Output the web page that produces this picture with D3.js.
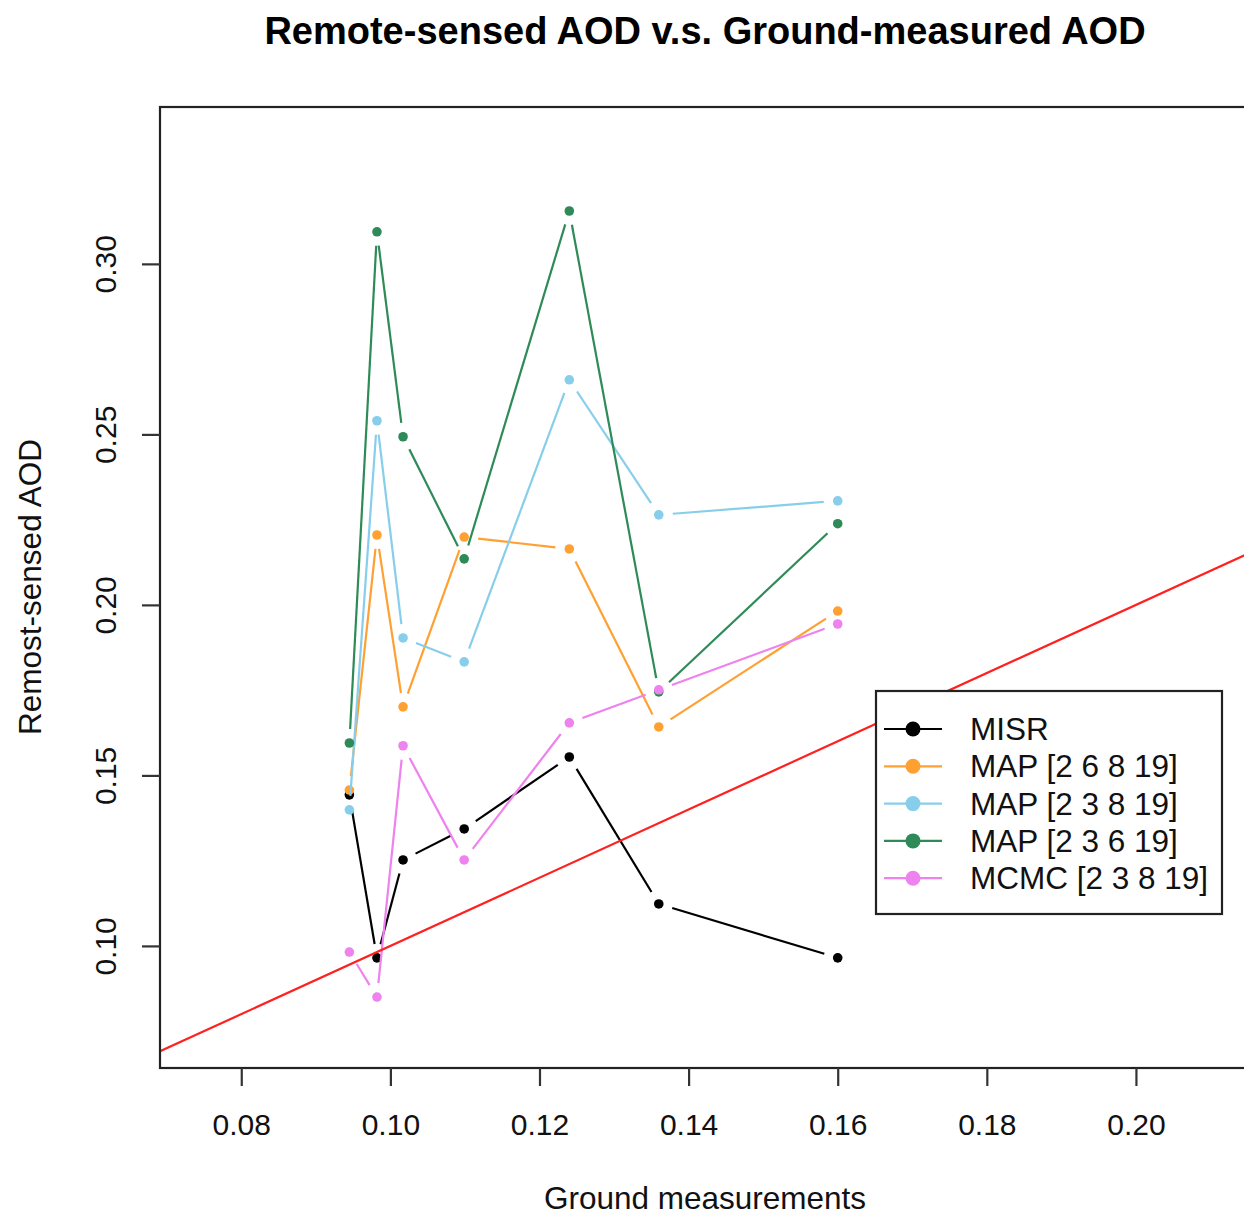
<!DOCTYPE html>
<html>
<head>
<meta charset="utf-8">
<script src="https://cdn.jsdelivr.net/npm/d3@7"></script>
<style>
  body { margin: 0; background: #fff; }
  svg { font-family: "Liberation Sans", Arial, sans-serif; }
</style>
</head>
<body>
<div id="chart"></div>
<script>
// ground measured AOD (x positions shared by all series)
const ground = [0.0945, 0.0982, 0.1017, 0.1099, 0.1240, 0.1360, 0.1600];

const misr = [0.1443, 0.0965, 0.1252, 0.1343, 0.1554, 0.1123, 0.0965];
const map2689 = [0.1457, 0.2205, 0.1701, 0.2199, 0.2164, 0.1642, 0.1982];
const map2389 = [0.1399, 0.2540, 0.1903, 0.1833, 0.2660, 0.2264, 0.2305];
const map2369 = [0.1595, 0.3094, 0.2493, 0.2135, 0.3155, 0.1745, 0.2238];
const mcmc2389 = [0.0982, 0.0850, 0.1587, 0.1252, 0.1654, 0.1751, 0.1944];

const seriesNames = ['MISR', 'MAP [2 6 8 19]', 'MAP [2 3 8 19]', 'MAP [2 3 6 19]', 'MCMC [2 3 8 19]'];
const seriesColors = ['#000000', '#FFA032', '#87CEEB', '#2E8B57', '#EE82EE'];
const seriesValues = [misr, map2689, map2389, map2369, mcmc2389];

const xTicks = [0.08, 0.10, 0.12, 0.14, 0.16, 0.18, 0.20];
const yTicks = [0.10, 0.15, 0.20, 0.25, 0.30];

const W = 1244, H = 1215;
const plot = { left: 160, right: 1250, top: 107, bottom: 1068 };
const font = '"Liberation Sans", Arial, sans-serif';

const svg = d3.select('#chart').append('svg')
  .attr('width', W).attr('height', H);

const x = d3.scaleLinear().domain([0.0691, 0.2153]).range([plot.left, plot.right]);
const y = d3.scaleLinear().domain([0.0642, 0.3460]).range([plot.bottom, plot.top]);

// clip for 1:1 line
svg.append('clipPath').attr('id', 'clip')
  .append('rect')
  .attr('x', plot.left).attr('y', plot.top)
  .attr('width', plot.right - plot.left).attr('height', plot.bottom - plot.top);

// series: type "b" lines with gaps around points
const gap = 14;
seriesValues.forEach((vals, si) => {
  const pts = ground.map((g, i) => [x(g), y(vals[i])]);
  const g = svg.append('g');
  for (let i = 0; i < pts.length - 1; i++) {
    const [x1, y1] = pts[i], [x2, y2] = pts[i + 1];
    const len = Math.hypot(x2 - x1, y2 - y1);
    if (len <= 2 * gap) continue;
    const ux = (x2 - x1) / len, uy = (y2 - y1) / len;
    g.append('line')
      .attr('x1', x1 + ux * gap).attr('y1', y1 + uy * gap)
      .attr('x2', x2 - ux * gap).attr('y2', y2 - uy * gap)
      .attr('stroke', seriesColors[si]).attr('stroke-width', 2.2);
  }
  g.selectAll('circle').data(pts).enter().append('circle')
    .attr('cx', d => d[0]).attr('cy', d => d[1]).attr('r', 4.8)
    .attr('fill', seriesColors[si]);
});

// y = x reference line
svg.append('line')
  .attr('clip-path', 'url(#clip)')
  .attr('x1', x(0.0691)).attr('y1', y(0.0691))
  .attr('x2', x(0.2153)).attr('y2', y(0.2153))
  .attr('stroke', '#FF2020').attr('stroke-width', 2.2);

// box
svg.append('rect')
  .attr('x', plot.left).attr('y', plot.top)
  .attr('width', plot.right - plot.left).attr('height', plot.bottom - plot.top)
  .attr('fill', 'none').attr('stroke', '#222').attr('stroke-width', 2.2);

// x axis
const xAxis = svg.append('g')
  .attr('transform', `translate(0,${plot.bottom})`)
  .call(d3.axisBottom(x).tickValues(xTicks).tickFormat(d3.format('.2f')).tickSize(18).tickPadding(28));
xAxis.select('.domain').remove();
xAxis.selectAll('line').attr('stroke', '#333').attr('stroke-width', 2.2);
xAxis.selectAll('text').attr('font-size', 30).attr('fill', '#111')
  .attr('font-family', font);

// y axis
const yAxis = svg.append('g')
  .attr('transform', `translate(${plot.left},0)`)
  .call(d3.axisLeft(y).tickValues(yTicks).tickFormat(d3.format('.2f')).tickSize(18).tickPadding(0));
yAxis.select('.domain').remove();
yAxis.selectAll('line').attr('stroke', '#333').attr('stroke-width', 2.2);
yAxis.selectAll('text')
  .attr('x', null).attr('dy', null)
  .attr('text-anchor', 'middle')
  .attr('transform', 'translate(-55,0) rotate(-90)')
  .attr('y', 11)
  .attr('font-size', 30).attr('fill', '#111')
  .attr('font-family', font);

// title and axis labels
svg.append('text')
  .attr('x', 705).attr('y', 44)
  .attr('text-anchor', 'middle')
  .attr('font-size', 38).attr('font-weight', 'bold').attr('fill', '#000')
  .text('Remote-sensed AOD v.s. Ground-measured AOD');

svg.append('text')
  .attr('x', 705).attr('y', 1209)
  .attr('text-anchor', 'middle')
  .attr('font-size', 31.5).attr('fill', '#111')
  .text('Ground measurements');

svg.append('text')
  .attr('transform', 'translate(41,587) rotate(-90)')
  .attr('text-anchor', 'middle')
  .attr('font-size', 31.5).attr('fill', '#111')
  .text('Remost-sensed AOD');

// legend
const leg = svg.append('g').attr('transform', 'translate(876,691)');
leg.append('rect')
  .attr('width', 346).attr('height', 223)
  .attr('fill', '#fff').attr('stroke', '#222').attr('stroke-width', 2.2);
seriesNames.forEach((name, i) => {
  const cy = 38 + i * 37.3;
  leg.append('line')
    .attr('x1', 8).attr('x2', 66).attr('y1', cy).attr('y2', cy)
    .attr('stroke', seriesColors[i]).attr('stroke-width', 2.2);
  leg.append('circle')
    .attr('cx', 37).attr('cy', cy).attr('r', 7.5)
    .attr('fill', seriesColors[i]);
  leg.append('text')
    .attr('x', 94).attr('y', cy + 11)
    .attr('font-size', 31.5).attr('fill', '#111')
    .text(name);
});
</script>
</body>
</html>
